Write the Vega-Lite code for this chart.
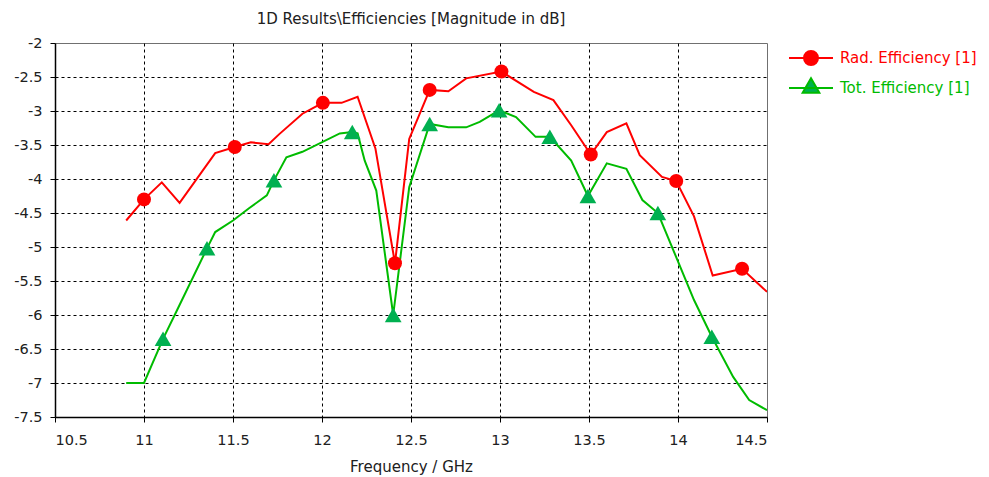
{
  "$schema": "https://vega.github.io/schema/vega-lite/v6.json",
  "width": 712,
  "height": 374,
  "autosize": {"type": "none"},
  "padding": {"left": 55, "top": 43, "right": 222, "bottom": 60},
  "background": "white",
  "config": {
    "font": "DejaVu Sans",
    "view": {"stroke": "#707070", "strokeWidth": 1},
    "axis": {
      "labelFont": "DejaVu Sans",
      "labelFontSize": 14.5,
      "labelColor": "#202020",
      "labelOverlap": false,
      "titleFont": "DejaVu Sans",
      "titleFontSize": 15,
      "titleFontWeight": "normal",
      "titleColor": "#202020",
      "domainColor": "black",
      "domainWidth": 1.5,
      "tickColor": "black",
      "tickWidth": 1,
      "tickSize": 5,
      "gridColor": "black",
      "gridDash": [3, 3],
      "gridWidth": 1
    }
  },
  "title": {
    "text": "1D Results\\Efficiencies [Magnitude in dB]",
    "font": "DejaVu Sans",
    "fontSize": 15,
    "fontWeight": "normal",
    "color": "#202020",
    "anchor": "middle",
    "baseline": "alphabetic",
    "offset": 3,
    "dy": 7
  },
  "datasets": {
    "curves": [
      {"series": "Rad. Efficiency [1]", "f": 10.90, "v": -4.61},
      {"series": "Rad. Efficiency [1]", "f": 11.00, "v": -4.30},
      {"series": "Rad. Efficiency [1]", "f": 11.10, "v": -4.05},
      {"series": "Rad. Efficiency [1]", "f": 11.20, "v": -4.35},
      {"series": "Rad. Efficiency [1]", "f": 11.40, "v": -3.62},
      {"series": "Rad. Efficiency [1]", "f": 11.51, "v": -3.53},
      {"series": "Rad. Efficiency [1]", "f": 11.60, "v": -3.46},
      {"series": "Rad. Efficiency [1]", "f": 11.70, "v": -3.49},
      {"series": "Rad. Efficiency [1]", "f": 11.76, "v": -3.34},
      {"series": "Rad. Efficiency [1]", "f": 11.89, "v": -3.04},
      {"series": "Rad. Efficiency [1]", "f": 12.005, "v": -2.88},
      {"series": "Rad. Efficiency [1]", "f": 12.11, "v": -2.88},
      {"series": "Rad. Efficiency [1]", "f": 12.20, "v": -2.79},
      {"series": "Rad. Efficiency [1]", "f": 12.30, "v": -3.55},
      {"series": "Rad. Efficiency [1]", "f": 12.41, "v": -5.24},
      {"series": "Rad. Efficiency [1]", "f": 12.49, "v": -3.41},
      {"series": "Rad. Efficiency [1]", "f": 12.605, "v": -2.69},
      {"series": "Rad. Efficiency [1]", "f": 12.71, "v": -2.71},
      {"series": "Rad. Efficiency [1]", "f": 12.81, "v": -2.52},
      {"series": "Rad. Efficiency [1]", "f": 13.008, "v": -2.42},
      {"series": "Rad. Efficiency [1]", "f": 13.19, "v": -2.72},
      {"series": "Rad. Efficiency [1]", "f": 13.30, "v": -2.84},
      {"series": "Rad. Efficiency [1]", "f": 13.40, "v": -3.21},
      {"series": "Rad. Efficiency [1]", "f": 13.51, "v": -3.64},
      {"series": "Rad. Efficiency [1]", "f": 13.60, "v": -3.31},
      {"series": "Rad. Efficiency [1]", "f": 13.71, "v": -3.18},
      {"series": "Rad. Efficiency [1]", "f": 13.785, "v": -3.65},
      {"series": "Rad. Efficiency [1]", "f": 13.91, "v": -3.97},
      {"series": "Rad. Efficiency [1]", "f": 13.99, "v": -4.03},
      {"series": "Rad. Efficiency [1]", "f": 14.09, "v": -4.55},
      {"series": "Rad. Efficiency [1]", "f": 14.195, "v": -5.42},
      {"series": "Rad. Efficiency [1]", "f": 14.36, "v": -5.32},
      {"series": "Rad. Efficiency [1]", "f": 14.50, "v": -5.66},
      {"series": "Tot. Efficiency [1]", "f": 10.90, "v": -7.00},
      {"series": "Tot. Efficiency [1]", "f": 11.00, "v": -7.00},
      {"series": "Tot. Efficiency [1]", "f": 11.107, "v": -6.35},
      {"series": "Tot. Efficiency [1]", "f": 11.18, "v": -5.96},
      {"series": "Tot. Efficiency [1]", "f": 11.354, "v": -5.02},
      {"series": "Tot. Efficiency [1]", "f": 11.40, "v": -4.78},
      {"series": "Tot. Efficiency [1]", "f": 11.50, "v": -4.61},
      {"series": "Tot. Efficiency [1]", "f": 11.59, "v": -4.43},
      {"series": "Tot. Efficiency [1]", "f": 11.69, "v": -4.24},
      {"series": "Tot. Efficiency [1]", "f": 11.73, "v": -4.02},
      {"series": "Tot. Efficiency [1]", "f": 11.80, "v": -3.68},
      {"series": "Tot. Efficiency [1]", "f": 11.89, "v": -3.60},
      {"series": "Tot. Efficiency [1]", "f": 12.10, "v": -3.33},
      {"series": "Tot. Efficiency [1]", "f": 12.17, "v": -3.31},
      {"series": "Tot. Efficiency [1]", "f": 12.20, "v": -3.33},
      {"series": "Tot. Efficiency [1]", "f": 12.24, "v": -3.73},
      {"series": "Tot. Efficiency [1]", "f": 12.305, "v": -4.17},
      {"series": "Tot. Efficiency [1]", "f": 12.40, "v": -6.00},
      {"series": "Tot. Efficiency [1]", "f": 12.49, "v": -4.12},
      {"series": "Tot. Efficiency [1]", "f": 12.605, "v": -3.19},
      {"series": "Tot. Efficiency [1]", "f": 12.71, "v": -3.24},
      {"series": "Tot. Efficiency [1]", "f": 12.81, "v": -3.24},
      {"series": "Tot. Efficiency [1]", "f": 12.886, "v": -3.16},
      {"series": "Tot. Efficiency [1]", "f": 12.995, "v": -2.99},
      {"series": "Tot. Efficiency [1]", "f": 13.09, "v": -3.09},
      {"series": "Tot. Efficiency [1]", "f": 13.20, "v": -3.38},
      {"series": "Tot. Efficiency [1]", "f": 13.28, "v": -3.38},
      {"series": "Tot. Efficiency [1]", "f": 13.40, "v": -3.73},
      {"series": "Tot. Efficiency [1]", "f": 13.494, "v": -4.25},
      {"series": "Tot. Efficiency [1]", "f": 13.60, "v": -3.77},
      {"series": "Tot. Efficiency [1]", "f": 13.71, "v": -3.85},
      {"series": "Tot. Efficiency [1]", "f": 13.80, "v": -4.31},
      {"series": "Tot. Efficiency [1]", "f": 13.887, "v": -4.50},
      {"series": "Tot. Efficiency [1]", "f": 14.09, "v": -5.78},
      {"series": "Tot. Efficiency [1]", "f": 14.19, "v": -6.32},
      {"series": "Tot. Efficiency [1]", "f": 14.31, "v": -6.91},
      {"series": "Tot. Efficiency [1]", "f": 14.40, "v": -7.25},
      {"series": "Tot. Efficiency [1]", "f": 14.50, "v": -7.40}
    ],
    "markers": [
      {"series": "Rad. Efficiency [1]", "f": 11.00, "v": -4.30},
      {"series": "Rad. Efficiency [1]", "f": 11.51, "v": -3.53},
      {"series": "Rad. Efficiency [1]", "f": 12.005, "v": -2.88},
      {"series": "Rad. Efficiency [1]", "f": 12.41, "v": -5.24},
      {"series": "Rad. Efficiency [1]", "f": 12.605, "v": -2.69},
      {"series": "Rad. Efficiency [1]", "f": 13.008, "v": -2.42},
      {"series": "Rad. Efficiency [1]", "f": 13.51, "v": -3.64},
      {"series": "Rad. Efficiency [1]", "f": 13.99, "v": -4.03},
      {"series": "Rad. Efficiency [1]", "f": 14.36, "v": -5.32},
      {"series": "Tot. Efficiency [1]", "f": 11.107, "v": -6.35},
      {"series": "Tot. Efficiency [1]", "f": 11.354, "v": -5.02},
      {"series": "Tot. Efficiency [1]", "f": 11.73, "v": -4.02},
      {"series": "Tot. Efficiency [1]", "f": 12.17, "v": -3.31},
      {"series": "Tot. Efficiency [1]", "f": 12.40, "v": -6.00},
      {"series": "Tot. Efficiency [1]", "f": 12.605, "v": -3.19},
      {"series": "Tot. Efficiency [1]", "f": 12.995, "v": -2.99},
      {"series": "Tot. Efficiency [1]", "f": 13.28, "v": -3.38},
      {"series": "Tot. Efficiency [1]", "f": 13.494, "v": -4.25},
      {"series": "Tot. Efficiency [1]", "f": 13.887, "v": -4.50},
      {"series": "Tot. Efficiency [1]", "f": 14.19, "v": -6.32}
    ]
  },
  "encoding": {
    "x": {
      "field": "f",
      "type": "quantitative",
      "scale": {"domain": [10.5, 14.5], "nice": false, "zero": false},
      "axis": {
        "title": "Frequency / GHz",
        "values": [10.5, 11, 11.5, 12, 12.5, 13, 13.5, 14, 14.5],
        "labelExpr": "'' + datum.value",
        "labelOverlap": false,
        "labelPadding": 11,
        "titlePadding": 13,
        "grid": true,
        "gridOpacity": {"condition": {"test": "datum.value == 10.5 || datum.value == 14.5", "value": 0}, "value": 1}
      }
    },
    "y": {
      "field": "v",
      "type": "quantitative",
      "scale": {"domain": [-7.5, -2], "nice": false, "zero": false},
      "axis": {
        "title": null,
        "values": [-7.5, -7, -6.5, -6, -5.5, -5, -4.5, -4, -3.5, -3, -2.5, -2],
        "labelExpr": "'' + datum.value",
        "labelOverlap": false,
        "labelFlush": false,
        "labelPadding": 8,
        "grid": true,
        "gridOpacity": {"condition": {"test": "datum.value == -2 || datum.value == -7.5", "value": 0}, "value": 1}
      }
    }
  },
  "layer": [
    {
      "data": {"name": "curves"},
      "mark": {"type": "line", "strokeWidth": 2, "clip": true},
      "encoding": {
        "color": {
          "field": "series",
          "type": "nominal",
          "scale": {"domain": ["Rad. Efficiency [1]", "Tot. Efficiency [1]"], "range": ["#ff0000", "#00bb00"]},
          "legend": {
            "title": null,
            "orient": "none",
            "legendX": 748,
            "legendY": 7,
            "padding": 0,
            "symbolSize": 196,
            "symbolStrokeWidth": 2,
            "labelOffset": 21,
            "rowPadding": 5,
            "labelFont": "DejaVu Sans",
            "labelFontSize": 15,
            "encode": {
              "symbols": {
                "update": {
                  "shape": {"signal": "datum.value === 'Rad. Efficiency [1]' ? 'M-3.14,0H3.14M1,0A1,1 0 1 1 -1,0A1,1 0 1 1 1,0Z' : 'M-3.14,0H3.14M0,-1.38L1.19,0.69L-1.19,0.69Z'"},
                  "fill": {"signal": "datum.value === 'Rad. Efficiency [1]' ? '#ff0000' : '#00b050'"},
                  "stroke": {"scale": "color", "field": "value"},
                  "strokeWidth": {"value": 2},
                  "opacity": {"value": 1}
                }
              },
              "labels": {
                "update": {
                  "fill": {"scale": "color", "field": "value"}
                }
              }
            }
          }
        }
      }
    },
    {
      "data": {"name": "markers"},
      "mark": {"type": "point", "filled": true, "opacity": 1},
      "encoding": {
        "shape": {"condition": {"test": "datum.series === 'Rad. Efficiency [1]'", "value": "circle"}, "value": "triangle-up"},
        "size": {"condition": {"test": "datum.series === 'Rad. Efficiency [1]'", "value": 196}, "value": 280},
        "fill": {"condition": {"test": "datum.series === 'Rad. Efficiency [1]'", "value": "#ff0000"}, "value": "#00b050"}
      }
    }
  ]
}
